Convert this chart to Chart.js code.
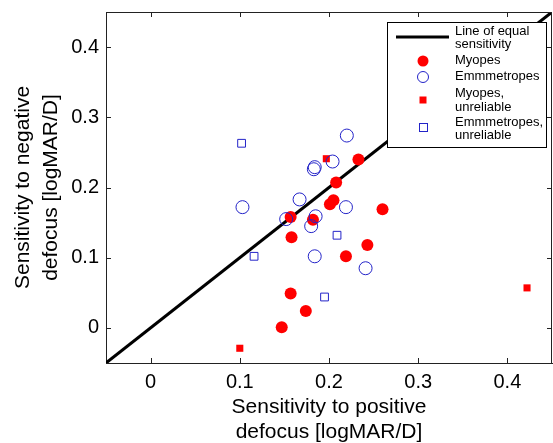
<!DOCTYPE html>
<html>
<head>
<meta charset="utf-8">
<script src="https://cdn.jsdelivr.net/npm/chart.js@4"></script>
<style>
  body { margin: 0; background: #fff; }
  canvas { display: block; }
</style>
</head>
<body>
<canvas id="myChart" width="553" height="443"></canvas>
<script>
// data
const myopesX = [0.233, 0.208, 0.205, 0.201, 0.260, 0.157, 0.182, 0.158, 0.243, 0.219, 0.157, 0.174, 0.147];
const myopesY = [0.240, 0.207, 0.182, 0.176, 0.169, 0.158, 0.154, 0.129, 0.118, 0.102, 0.049, 0.024, 0.001];

const emmX = [0.220, 0.204, 0.183, 0.184, 0.167, 0.103, 0.219, 0.152, 0.185, 0.180, 0.184, 0.241];
const emmY = [0.274, 0.237, 0.226, 0.229, 0.183, 0.172, 0.172, 0.155, 0.159, 0.145, 0.102, 0.085];

const myopesUnrelX = [0.197, 0.100, 0.422];
const myopesUnrelY = [0.241, -0.029, 0.057];

const emmUnrelX = [0.102, 0.116, 0.209, 0.195];
const emmUnrelY = [0.263, 0.102, 0.132, 0.044];

const equalLineX = [-0.05, 0.45];
const equalLineY = [-0.05, 0.45];

const xTicks = [0, 0.1, 0.2, 0.3, 0.4];
const yTicks = [0, 0.1, 0.2, 0.3, 0.4];

const legendLabels = [
  ['Line of equal', 'sensitivity'],
  ['Myopes'],
  ['Emmmetropes'],
  ['Myopes,', 'unreliable'],
  ['Emmmetropes,', 'unreliable']
];

const RED = '#ff0000';
const BLUE = '#2323c8';
const FONT = 'Liberation Sans, Arial, sans-serif';

const pts = (xs, ys) => xs.map((x, i) => ({x: x, y: ys[i]}));
const fmt = v => (Math.abs(v) < 1e-9 ? '0' : v.toFixed(1));
// no extra room for label overhang, the plot box is fixed
const noPad = s => { s.paddingTop = 0; s.paddingBottom = 0; s.paddingLeft = 0; s.paddingRight = 0; };

/*/////////////////////////// inward ticks + box ///////////////////////////*/
const boxTicks = {
  id: 'boxTicks',
  afterDraw(chart) {
    const ctx = chart.ctx;
    const a = chart.chartArea;
    const sx = chart.scales.x, sy = chart.scales.y;
    ctx.save();
    ctx.strokeStyle = '#222';
    ctx.lineWidth = 1;
    ctx.beginPath();
    ctx.moveTo(a.left, a.top + 0.5); ctx.lineTo(a.right, a.top + 0.5);
    ctx.moveTo(a.right - 0.5, a.top); ctx.lineTo(a.right - 0.5, a.bottom);
    xTicks.forEach(v => {
      const px = Math.round(sx.getPixelForValue(v)) + 0.5;
      ctx.moveTo(px, a.bottom); ctx.lineTo(px, a.bottom - 5);
      ctx.moveTo(px, a.top); ctx.lineTo(px, a.top + 5);
    });
    yTicks.forEach(v => {
      const py = Math.round(sy.getPixelForValue(v)) + 0.5;
      ctx.moveTo(a.left, py); ctx.lineTo(a.left + 5, py);
      ctx.moveTo(a.right, py); ctx.lineTo(a.right - 5, py);
    });
    ctx.stroke();
    ctx.restore();
  }
};

/*/////////////////////////// legend ///////////////////////////*/
const legendBox = {
  id: 'legendBox',
  afterDraw(chart) {
    const ctx = chart.ctx;
    const bx = 387, by = 22, bw = 159, bh = 125;
    const symX = 423, textX = 455, lh = 13.5;
    ctx.save();
    ctx.fillStyle = '#fff';
    ctx.fillRect(bx, by, bw, bh);
    ctx.strokeStyle = '#000';
    ctx.lineWidth = 1;
    ctx.strokeRect(bx + 0.5, by + 0.5, bw, bh);

    const rows = [31, 60, 76, 93.5, 122];
    const symY = [37, 61, 77, 100, 127];

    ctx.font = '13px ' + FONT;
    ctx.fillStyle = '#000';
    ctx.textAlign = 'left';
    ctx.textBaseline = 'middle';
    legendLabels.forEach((lines, i) => {
      lines.forEach((t, j) => ctx.fillText(t, textX, rows[i] + j * lh));
    });

    // line sample
    ctx.strokeStyle = '#000';
    ctx.lineWidth = 3;
    ctx.beginPath();
    ctx.moveTo(396, symY[0]); ctx.lineTo(449, symY[0]);
    ctx.stroke();
    // filled circle
    ctx.fillStyle = RED;
    ctx.beginPath(); ctx.arc(symX, symY[1], 5.5, 0, Math.PI * 2); ctx.fill();
    // open circle
    ctx.strokeStyle = BLUE; ctx.lineWidth = 1;
    ctx.beginPath(); ctx.arc(symX, symY[2], 5.5, 0, Math.PI * 2); ctx.stroke();
    // filled square
    ctx.fillStyle = RED;
    ctx.fillRect(symX - 3.5, symY[3] - 3.5, 7, 7);
    // open square
    ctx.strokeRect(symX - 3.5, symY[4] - 3.5, 8, 8);
    ctx.restore();
  }
};

const ctx = document.getElementById('myChart').getContext('2d');
const myChart = new Chart(ctx, {
  type: 'scatter',
  data: {
    datasets: [
      {
        label: 'Line of equal sensitivity',
        data: pts(equalLineX, equalLineY),
        showLine: true,
        borderColor: '#000',
        borderWidth: 3,
        pointRadius: 0,
        order: 10
      },
      {
        label: 'Myopes',
        data: pts(myopesX, myopesY),
        pointStyle: 'circle',
        pointRadius: 6,
        backgroundColor: RED,
        borderColor: RED,
        borderWidth: 0,
        order: 2
      },
      {
        label: 'Emmmetropes',
        data: pts(emmX, emmY),
        pointStyle: 'circle',
        pointRadius: 6.5,
        backgroundColor: 'rgba(0,0,0,0)',
        borderColor: BLUE,
        borderWidth: 1,
        order: 1
      },
      {
        label: 'Myopes, unreliable',
        data: pts(myopesUnrelX, myopesUnrelY),
        pointStyle: 'rect',
        pointRadius: 5,
        backgroundColor: RED,
        borderColor: RED,
        borderWidth: 0,
        order: 3
      },
      {
        label: 'Emmmetropes, unreliable',
        data: pts(emmUnrelX, emmUnrelY),
        pointStyle: 'rect',
        pointRadius: 5.5,
        backgroundColor: 'rgba(0,0,0,0)',
        borderColor: BLUE,
        borderWidth: 1,
        order: 4
      }
    ]
  },
  options: {
    responsive: false,
    animation: false,
    layout: { autoPadding: false, padding: { top: 12, right: 1, left: 0, bottom: 0 } },
    plugins: {
      legend: { display: false },
      tooltip: { enabled: false }
    },
    scales: {
      x: {
        type: 'linear',
        min: -0.05,
        max: 0.45,
        afterFit: s => { s.height = 80; noPad(s); },
        afterBuildTicks: s => { s.ticks = xTicks.map(v => ({value: v})); },
        grid: { display: false, drawTicks: false },
        border: { display: true, color: '#222', width: 1 },
        ticks: {
          padding: 7,
          color: '#000',
          font: { family: FONT, size: 20 },
          callback: fmt
        },
        title: {
          display: true,
          text: ['Sensitivity to positive', 'defocus [logMAR/D]'],
          color: '#000',
          font: { family: FONT, size: 21, lineHeight: 1.2 },
          padding: { top: 0, bottom: -2 }
        }
      },
      y: {
        type: 'linear',
        min: -0.05,
        max: 0.45,
        afterFit: s => { s.width = 106; noPad(s); },
        afterBuildTicks: s => { s.ticks = yTicks.map(v => ({value: v})); },
        grid: { display: false, drawTicks: false },
        border: { display: true, color: '#222', width: 1 },
        ticks: {
          padding: 7,
          color: '#000',
          font: { family: FONT, size: 20 },
          callback: fmt
        },
        title: {
          display: true,
          text: ['Sensitivity to negative', 'defocus [logMAR/D]'],
          color: '#000',
          font: { family: FONT, size: 21, lineHeight: 1.3 },
          padding: { top: 10, bottom: 0 }
        }
      }
    }
  },
  plugins: [boxTicks, legendBox]
});
</script>
</body>
</html>
